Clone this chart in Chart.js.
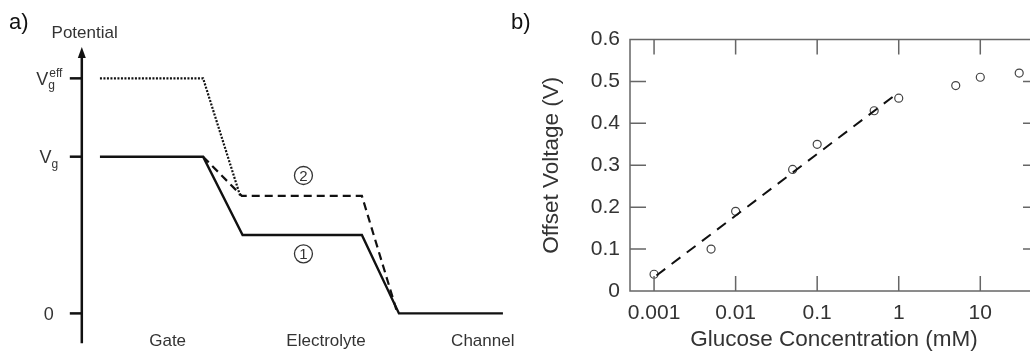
<!DOCTYPE html>
<html>
<head>
<meta charset="utf-8">
<script src="https://cdn.jsdelivr.net/npm/chart.js@4.4.1/dist/chart.umd.min.js"></script>
<style>
  html, body { margin: 0; padding: 0; background: #fff; overflow: hidden; }
  body { width: 1030px; height: 351px; position: relative; }
  canvas { position: absolute; top: 0; }
  #chartA { left: 0; }
  #chartB { left: 505px; }
</style>
</head>
<body>
<canvas id="chartA" width="540" height="351"></canvas>
<canvas id="chartB" width="545" height="351"></canvas>
<script>
const FONT = '"Liberation Sans", Arial, Helvetica, sans-serif';

// a) schematic potential profile, arbitrary units
const solidX = [0, 2.56, 3.54, 6.5, 7.42, 10];
const solidY = [1, 1, 0.5, 0.5, 0, 0];
const dashedX = [2.56, 3.52, 6.5, 7.36];
const dashedY = [1, 0.75, 0.75, 0.02];
const dottedX = [0, 2.56, 3.48];
const dottedY = [1.5, 1.5, 0.75];
const levelTicks = [0, 1, 1.5];
const levelMain = ['0', 'V', 'V'];
const levelSub = ['', 'g', 'g'];
const levelSup = ['', '', 'eff'];
const regions = ['Gate', 'Electrolyte', 'Channel'];
const regionX = [1.68, 5.61, 9.5];
const markerText = ['1', '2'];
const markerX = [5.05, 5.05];
const markerY = [0.38, 0.88];

// b) offset voltage vs glucose concentration
const glucose = [0.001, 0.005, 0.01, 0.05, 0.1, 0.5, 1, 5, 10, 30];
const offsetV = [0.04, 0.10, 0.19, 0.29, 0.35, 0.43, 0.46, 0.49, 0.51, 0.52];
const fitX = [0.00107, 0.94];
const fitY = [0.037, 0.47];
const xTicks = [0.001, 0.01, 0.1, 1, 10];
const yTicks = [0, 0.1, 0.2, 0.3, 0.4, 0.5, 0.6];

const pts = (xs, ys) => xs.map((x, i) => ({ x: x, y: ys[i] }));

const potentialDecor = {
  id: 'potentialDecor',
  afterDatasetsDraw(chart) {
    const { ctx, scales: { x, y } } = chart;
    ctx.save();
    const ax = x.getPixelForValue(-0.45);
    const yTop = y.getPixelForValue(1.70);
    const yBot = y.getPixelForValue(-0.19);
    ctx.strokeStyle = '#111';
    ctx.fillStyle = '#111';
    ctx.lineWidth = 2.5;
    ctx.beginPath();
    ctx.moveTo(ax, yBot);
    ctx.lineTo(ax, yTop + 8);
    ctx.stroke();
    ctx.beginPath();
    ctx.moveTo(ax, yTop);
    ctx.lineTo(ax - 4, yTop + 11);
    ctx.lineTo(ax + 4, yTop + 11);
    ctx.closePath();
    ctx.fill();

    // level ticks with V_g / V_g^eff labels
    ctx.fillStyle = '#333';
    levelTicks.forEach((v, i) => {
      const py = y.getPixelForValue(v);
      ctx.beginPath();
      ctx.moveTo(ax - 12, py);
      ctx.lineTo(ax, py);
      ctx.stroke();
      ctx.font = '18px ' + FONT;
      const w1 = ctx.measureText(levelMain[i]).width;
      ctx.font = '12px ' + FONT;
      const ws = ctx.measureText(levelSub[i]).width;
      const wp = ctx.measureText(levelSup[i]).width;
      const total = w1 + Math.max(ws, wp);
      const sx = ax - 33 - total / 2;
      ctx.textAlign = 'left';
      ctx.textBaseline = 'alphabetic';
      ctx.font = '18px ' + FONT;
      ctx.fillText(levelMain[i], sx, py + 6.5);
      ctx.font = '12px ' + FONT;
      if (levelSub[i]) ctx.fillText(levelSub[i], sx + w1, py + 11);
      if (levelSup[i]) ctx.fillText(levelSup[i], sx + w1 + 1, py - 1);
    });

    ctx.font = '17px ' + FONT;
    ctx.textAlign = 'center';
    ctx.textBaseline = 'middle';
    ctx.fillText('Potential', x.getPixelForValue(-0.38), y.getPixelForValue(1.79));
    regions.forEach((r, i) => {
      ctx.fillText(r, x.getPixelForValue(regionX[i]), y.getPixelForValue(-0.18));
    });

    // circled curve numbers
    ctx.lineWidth = 1.3;
    ctx.strokeStyle = '#333';
    markerText.forEach((m, i) => {
      const cx = x.getPixelForValue(markerX[i]);
      const cy = y.getPixelForValue(markerY[i]);
      ctx.beginPath();
      ctx.arc(cx, cy, 9, 0, Math.PI * 2);
      ctx.stroke();
      ctx.font = '15px ' + FONT;
      ctx.fillText(m, cx, cy + 1);
    });

    ctx.fillStyle = '#111';
    ctx.textAlign = 'left';
    ctx.font = '22px ' + FONT;
    ctx.fillText('a)', 9, 23);
    ctx.restore();
  }
};

new Chart(document.getElementById('chartA'), {
  type: 'scatter',
  data: {
    datasets: [
      { data: pts(solidX, solidY), showLine: true, borderColor: '#111', borderWidth: 2.4, pointRadius: 0 },
      { data: pts(dashedX, dashedY), showLine: true, borderColor: '#111', borderWidth: 2.2, borderDash: [8, 5], pointRadius: 0 },
      { data: pts(dottedX, dottedY), showLine: true, borderColor: '#111', borderWidth: 2.2, borderDash: [2, 1.5], pointRadius: 0 }
    ]
  },
  options: {
    responsive: false,
    animation: false,
    layout: { padding: 0 },
    plugins: { legend: { display: false }, tooltip: { enabled: false } },
    scales: {
      x: { display: false, min: -2.48, max: 10.92 },
      y: { display: false, min: -0.24, max: 2.0 }
    }
  },
  plugins: [potentialDecor]
});

const frameTicks = {
  id: 'frameTicks',
  afterDatasetsDraw(chart) {
    const { ctx, chartArea: a, scales: { x, y } } = chart;
    ctx.save();
    ctx.strokeStyle = '#666';
    ctx.lineWidth = 1.5;
    ctx.strokeRect(a.left, a.top, a.right - a.left, a.bottom - a.top);
    ctx.beginPath();
    x.ticks.forEach(t => {
      const px = x.getPixelForValue(t.value);
      ctx.moveTo(px, a.bottom);
      ctx.lineTo(px, a.bottom - 15);
      ctx.moveTo(px, a.top);
      ctx.lineTo(px, a.top + 15);
    });
    y.ticks.forEach(t => {
      if (t.value <= y.min || t.value >= y.max) return;
      const py = y.getPixelForValue(t.value);
      ctx.moveTo(a.left, py);
      ctx.lineTo(a.left + 16, py);
      ctx.moveTo(a.right, py);
      ctx.lineTo(a.right - 15, py);
    });
    ctx.stroke();
    ctx.fillStyle = '#111';
    ctx.font = '22px ' + FONT;
    ctx.textBaseline = 'middle';
    ctx.fillText('b)', 6, 23);
    ctx.restore();
  }
};

new Chart(document.getElementById('chartB'), {
  type: 'scatter',
  data: {
    datasets: [
      { data: pts(fitX, fitY), showLine: true, borderColor: '#111', borderWidth: 2, borderDash: [11, 8], pointRadius: 0 },
      { data: pts(glucose, offsetV), pointRadius: 4, pointBorderColor: '#444', pointBackgroundColor: 'rgba(0,0,0,0)', pointBorderWidth: 1.2 }
    ]
  },
  options: {
    responsive: false,
    animation: false,
    layout: { padding: { top: 39.5, right: 12, left: 0, bottom: 0 } },
    plugins: { legend: { display: false }, tooltip: { enabled: false } },
    scales: {
      x: {
        type: 'logarithmic',
        min: 0.000507,
        max: 51,
        afterBuildTicks: s => { s.ticks = xTicks.map(v => ({ value: v })); },
        afterFit: s => { s.height = 60; },
        grid: { display: false, drawTicks: false },
        border: { display: false },
        ticks: { font: { family: FONT, size: 21 }, color: '#333', padding: 10, maxRotation: 0, autoSkip: false, callback: v => String(v) },
        title: { display: true, text: 'Glucose Concentration (mM)', color: '#333', font: { family: FONT, size: 22.5, lineHeight: 1 }, padding: { top: 0, bottom: 0 } }
      },
      y: {
        min: 0,
        max: 0.6,
        afterBuildTicks: s => { s.ticks = yTicks.map(v => ({ value: v })); },
        afterFit: s => { s.width = 125; },
        grid: { display: false, drawTicks: false },
        border: { display: false },
        ticks: { font: { family: FONT, size: 21 }, color: '#333', padding: 10, callback: v => String(v) },
        title: { display: true, text: 'Offset Voltage (V)', color: '#333', font: { family: FONT, size: 22.5, lineHeight: 1 }, padding: { top: 35.5, bottom: 0 } }
      }
    }
  },
  plugins: [frameTicks]
});
</script>
</body>
</html>
